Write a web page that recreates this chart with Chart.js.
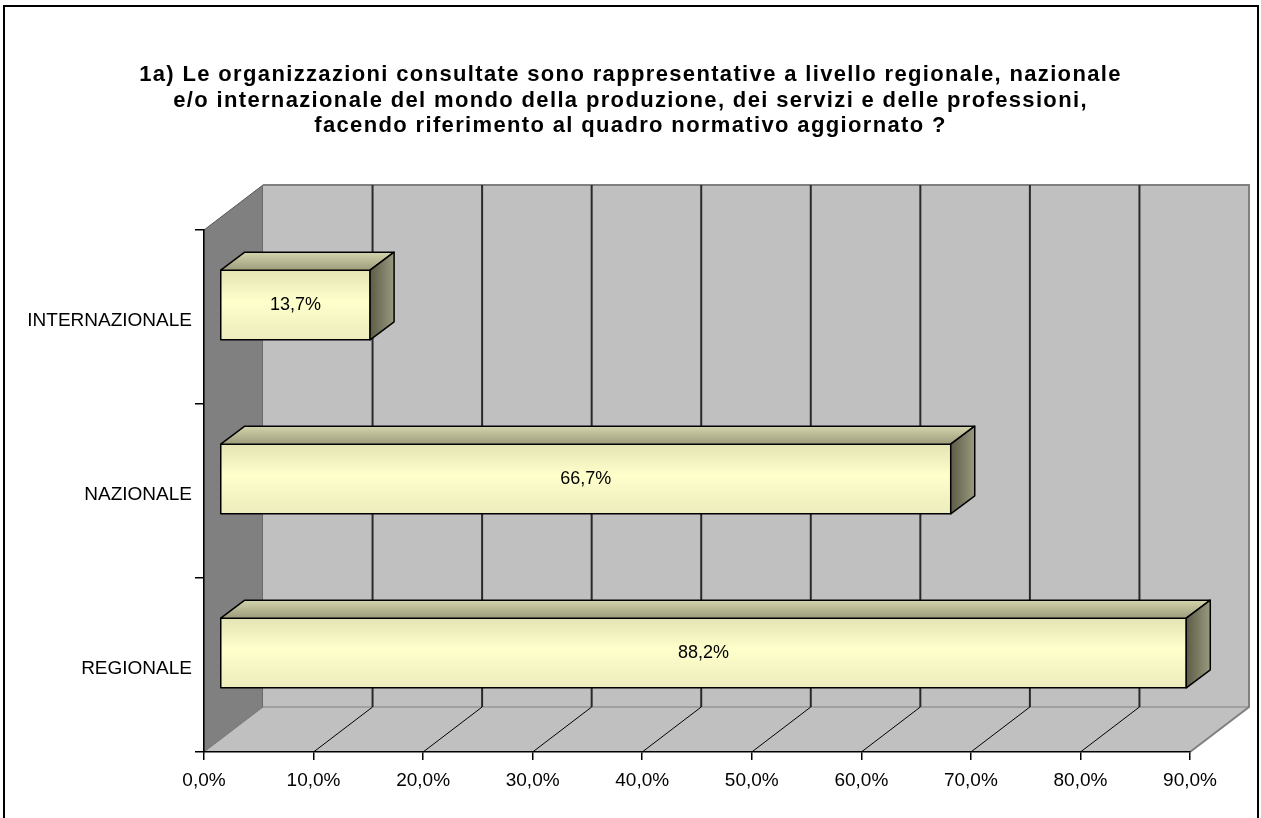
<!DOCTYPE html>
<html>
<head>
<meta charset="utf-8">
<script src="https://cdn.jsdelivr.net/npm/chart.js@4"></script>
<style>
    html, body { margin: 0; padding: 0; background: #fff; }
    #wrap { width: 1261px; height: 818px; }
</style>
</head>
<body>
<div id="wrap"><canvas id="chart" width="1261" height="818"></canvas></div>
<script>
// Data
const categories = ['INTERNAZIONALE', 'NAZIONALE', 'REGIONALE'];
const percentages = [13.7, 66.7, 88.2];
const axisMin = 0;
const axisMax = 90;
const axisStep = 10;
const titleLines = [
    '1a) Le organizzazioni consultate sono rappresentative a livello regionale, nazionale',
    'e/o internazionale del mondo della produzione, dei servizi e delle professioni,',
    'facendo riferimento al quadro normativo aggiornato ?'
];

// 3D look
const WALL_DX = 59, WALL_DY = -45;   // depth of the walls
const BAR_OX = 16, BAR_OY = -12;     // front face of the bars
const BAR_DX = 24, BAR_DY = -18;     // depth of the bars
const FONT = "'Liberation Sans', Arial, sans-serif";

function pct(v) {
    return v.toFixed(1).replace('.', ',') + '%';
}

const wallsPlugin = {
    id: 'walls',
    beforeDraw(chart) {
        const ctx = chart.ctx;
        const a = chart.chartArea;
        const xs = chart.scales.x;
        const L = a.left, R = a.right, T = a.top, B = a.bottom;

        ctx.save();
        // left wall
        ctx.fillStyle = '#808080';
        ctx.beginPath();
        ctx.moveTo(L, T);
        ctx.lineTo(L + WALL_DX, T + WALL_DY);
        ctx.lineTo(L + WALL_DX, B + WALL_DY);
        ctx.lineTo(L, B);
        ctx.closePath();
        ctx.fill();
        ctx.strokeStyle = '#555';
        ctx.lineWidth = 1;
        ctx.stroke();

        // back wall
        ctx.fillStyle = '#c0c0c0';
        ctx.fillRect(L + WALL_DX, T + WALL_DY, R - L, B - T);

        // floor
        ctx.beginPath();
        ctx.moveTo(L, B);
        ctx.lineTo(L + WALL_DX, B + WALL_DY);
        ctx.lineTo(R + WALL_DX, B + WALL_DY);
        ctx.lineTo(R, B);
        ctx.closePath();
        ctx.fill();

        // outer edges in grey
        ctx.strokeStyle = '#808080';
        ctx.lineWidth = 2;
        ctx.beginPath();
        ctx.moveTo(L + WALL_DX, T + WALL_DY);
        ctx.lineTo(R + WALL_DX, T + WALL_DY);
        ctx.lineTo(R + WALL_DX, B + WALL_DY);
        ctx.lineTo(R, B);
        ctx.stroke();
        ctx.lineWidth = 1;
        ctx.beginPath();
        ctx.moveTo(L, B);
        ctx.lineTo(L + WALL_DX, B + WALL_DY);
        ctx.lineTo(R + WALL_DX, B + WALL_DY);
        ctx.stroke();

        // gridlines on back wall and floor
        xs.ticks.forEach(t => {
            const px = xs.getPixelForValue(t.value);
            if (t.value > axisMin && t.value < axisMax) {
                ctx.strokeStyle = '#2a2a2a';
                ctx.lineWidth = 2;
                ctx.beginPath();
                ctx.moveTo(px + WALL_DX, T + WALL_DY);
                ctx.lineTo(px + WALL_DX, B + WALL_DY);
                ctx.stroke();
                ctx.strokeStyle = '#000';
                ctx.lineWidth = 1;
                ctx.beginPath();
                ctx.moveTo(px, B);
                ctx.lineTo(px + WALL_DX, B + WALL_DY);
                ctx.stroke();
            }
        });
        ctx.restore();
    },
    afterDraw(chart) {
        const ctx = chart.ctx;
        ctx.save();
        // title
        ctx.fillStyle = '#000';
        ctx.font = 'bold 22px ' + FONT;
        ctx.letterSpacing = '1.35px';
        ctx.textAlign = 'center';
        ctx.textBaseline = 'middle';
        titleLines.forEach((line, i) => {
            ctx.fillText(line, chart.width / 2, 75 + i * 25.5);
        });
        ctx.letterSpacing = '0px';
        // chart border
        ctx.strokeStyle = '#000';
        ctx.lineWidth = 2;
        ctx.strokeRect(4, 6, chart.width - 7, chart.height + 10);
        ctx.restore();
    }
};

const bars3dPlugin = {
    id: 'bars3d',
    beforeDatasetsDraw(chart) {
        chart.ctx.save();
        chart.ctx.translate(BAR_OX, BAR_OY);
    },
    afterDatasetsDraw(chart) {
        const ctx = chart.ctx;
        const meta = chart.getDatasetMeta(0);
        meta.data.forEach((bar, i) => {
            const p = bar.getProps(['x', 'y', 'base', 'height'], true);
            const left = p.base, right = p.x;
            const top = p.y - p.height / 2, bottom = p.y + p.height / 2;

            // front face
            let g = ctx.createLinearGradient(0, top, 0, bottom);
            g.addColorStop(0, '#e4e4b4');
            g.addColorStop(0.45, '#ffffcc');
            g.addColorStop(1, '#ececbc');
            ctx.fillStyle = g;
            ctx.fillRect(left, top, right - left, bottom - top);

            ctx.strokeStyle = '#000';
            ctx.lineWidth = 1.5;
            ctx.lineJoin = 'round';
            ctx.strokeRect(left, top, right - left, bottom - top);

            // top face
            g = ctx.createLinearGradient(0, top + BAR_DY, 0, top);
            g.addColorStop(0, '#d4d4ac');
            g.addColorStop(1, '#9c9c7c');
            ctx.fillStyle = g;
            ctx.beginPath();
            ctx.moveTo(left, top);
            ctx.lineTo(left + BAR_DX, top + BAR_DY);
            ctx.lineTo(right + BAR_DX, top + BAR_DY);
            ctx.lineTo(right, top);
            ctx.closePath();
            ctx.fill();
            ctx.stroke();

            // side face
            g = ctx.createLinearGradient(right, 0, right + BAR_DX, 0);
            g.addColorStop(0, '#5c5c48');
            g.addColorStop(1, '#9a9a7e');
            ctx.fillStyle = g;
            ctx.beginPath();
            ctx.moveTo(right, top);
            ctx.lineTo(right + BAR_DX, top + BAR_DY);
            ctx.lineTo(right + BAR_DX, bottom + BAR_DY);
            ctx.lineTo(right, bottom);
            ctx.closePath();
            ctx.fill();
            ctx.stroke();

            // value label
            ctx.fillStyle = '#000';
            ctx.font = '18px ' + FONT;
            ctx.textAlign = 'center';
            ctx.textBaseline = 'middle';
            ctx.fillText(pct(percentages[i]), (left + right) / 2, p.y);
        });
        ctx.restore();
    }
};

Chart.defaults.font.family = FONT;
Chart.defaults.color = '#000';

new Chart(document.getElementById('chart'), {
    type: 'bar',
    data: {
        labels: categories,
        datasets: [{
            data: percentages,
            backgroundColor: '#ffffcc',
            borderColor: '#000',
            borderWidth: 1.5,
            barPercentage: 0.4,
            categoryPercentage: 1,
            clip: false
        }]
    },
    options: {
        indexAxis: 'y',
        responsive: false,
        animation: false,
        layout: {
            padding: { top: 230, right: 71, left: 0, bottom: 0 }
        },
        plugins: {
            legend: { display: false },
            title: { display: false },
            tooltip: { enabled: false }
        },
        scales: {
            x: {
                min: axisMin,
                max: axisMax,
                ticks: {
                    stepSize: axisStep,
                    color: '#000',
                    font: { size: 19 },
                    padding: 9,
                    maxRotation: 0,
                    callback: v => pct(v)
                },
                grid: { drawOnChartArea: false, tickLength: 8, color: '#000', lineWidth: 1.5 },
                border: { color: '#000', width: 1.5 },
                afterFit: s => { s.height = 66; }
            },
            y: {
                ticks: { color: '#000', font: { size: 19 }, padding: 3, labelOffset: 4 },
                grid: { drawOnChartArea: false, tickLength: 9, color: '#000', lineWidth: 1.5, offset: true },
                border: { color: '#000', width: 1.5 },
                afterFit: s => { s.width = 204; }
            }
        }
    },
    plugins: [wallsPlugin, bars3dPlugin]
});
</script>
</body>
</html>
